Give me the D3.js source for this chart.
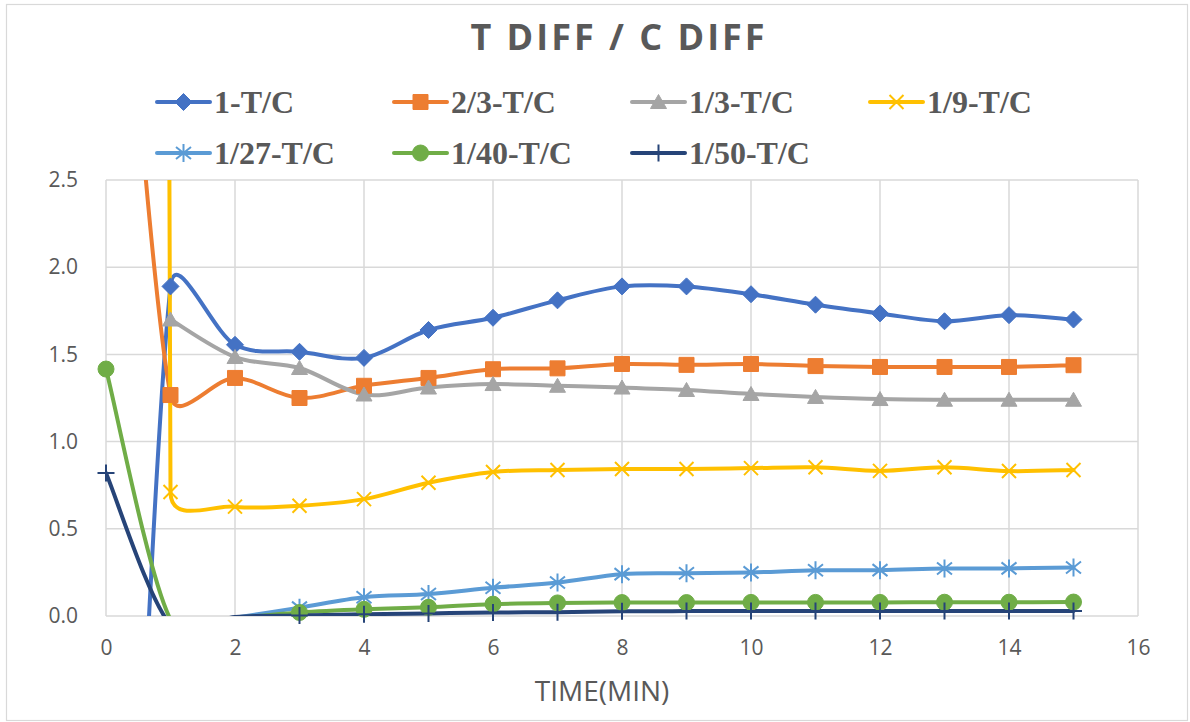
<!DOCTYPE html>
<html>
<head>
<meta charset="utf-8">
<script src="https://cdn.jsdelivr.net/npm/d3@7"></script>
<style>
  html, body { margin: 0; padding: 0; background: #ffffff; }
  svg { display: block; }
</style>
</head>
<body>
<svg id="chart" width="1190" height="722"></svg>
<script>
// ---- data ----
const time = [0, 1, 2, 3, 4, 5, 6, 7, 8, 9, 10, 11, 12, 13, 14, 15];

const ratio1    = [-5.5, 1.89, 1.555, 1.515, 1.48, 1.64, 1.71, 1.81, 1.89, 1.89, 1.845, 1.785, 1.735, 1.69, 1.725, 1.70];
const ratio2_3  = [5.3, 1.267, 1.365, 1.25, 1.32, 1.365, 1.415, 1.42, 1.445, 1.44, 1.445, 1.433, 1.428, 1.428, 1.428, 1.438];
const ratio1_3  = [null, 1.70, 1.485, 1.422, 1.27, 1.31, 1.33, 1.32, 1.31, 1.296, 1.273, 1.256, 1.244, 1.24, 1.24, 1.24];
const ratio1_9  = [120, 0.711, 0.627, 0.632, 0.67, 0.764, 0.826, 0.837, 0.843, 0.843, 0.848, 0.853, 0.832, 0.853, 0.831, 0.837];
const ratio1_27 = [null, null, -0.01, 0.048, 0.108, 0.126, 0.162, 0.192, 0.24, 0.245, 0.25, 0.262, 0.263, 0.272, 0.273, 0.278];
const ratio1_40 = [1.416, -0.02, -0.01, 0.02, 0.038, 0.05, 0.068, 0.075, 0.077, 0.077, 0.078, 0.078, 0.078, 0.079, 0.079, 0.08];
const ratio1_50 = [0.82, -0.05, -0.005, 0.003, 0.01, 0.015, 0.02, 0.022, 0.027, 0.028, 0.028, 0.028, 0.028, 0.028, 0.028, 0.028];

const seriesNames   = ["1-T/C", "2/3-T/C", "1/3-T/C", "1/9-T/C", "1/27-T/C", "1/40-T/C", "1/50-T/C"];
const seriesValues  = [ratio1, ratio2_3, ratio1_3, ratio1_9, ratio1_27, ratio1_40, ratio1_50];
const seriesColors  = ["#4472C4", "#ED7D31", "#A5A5A5", "#FFC000", "#5B9BD5", "#70AD47", "#264478"];
const seriesMarkers = ["diamond", "square", "triangle", "x", "asterisk", "circle", "plus"];

const xTicks = [0, 2, 4, 6, 8, 10, 12, 14, 16];
const yTicks = [0, 0.5, 1.0, 1.5, 2.0, 2.5];

const chartTitle = "T DIFF / C DIFF";
const xAxisTitle = "TIME(MIN)";

// ---- layout ----
const plot = { left: 106, right: 1138, top: 180, bottom: 616 };
const textColor = "#595959";
const gridColor = "#D9D9D9";

const svg = d3.select("#chart");

const x = d3.scaleLinear().domain([0, 16]).range([plot.left, plot.right]);
const y = d3.scaleLinear().domain([0, 2.5]).range([plot.bottom, plot.top]);

// outer chart border
svg.append("rect")
  .attr("x", 6.5).attr("y", 4.5)
  .attr("width", 1181).attr("height", 716)
  .attr("fill", "#ffffff")
  .attr("stroke", gridColor).attr("stroke-width", 1.2);

// title
svg.append("text")
  .attr("x", 619).attr("y", 50)
  .attr("text-anchor", "middle")
  .attr("font-family", "'Open Sans', sans-serif")
  .attr("font-weight", 700)
  .attr("font-size", 36)
  .attr("letter-spacing", 3)
  .attr("fill", textColor)
  .text(chartTitle);

// gridlines
const grid = svg.append("g");
grid.selectAll("line.h").data(yTicks).join("line")
  .attr("class", "h")
  .attr("x1", plot.left).attr("x2", plot.right)
  .attr("y1", d => y(d)).attr("y2", d => y(d))
  .attr("stroke", gridColor).attr("stroke-width", 1.5);
grid.selectAll("line.v").data(xTicks).join("line")
  .attr("class", "v")
  .attr("y1", plot.top).attr("y2", plot.bottom)
  .attr("x1", d => x(d)).attr("x2", d => x(d))
  .attr("stroke", gridColor).attr("stroke-width", 1.5);

// axes (labels only, gridlines drawn above)
const fmtY = d3.format(".1f");
const yAxis = svg.append("g")
  .attr("transform", `translate(${plot.left},0)`)
  .call(d3.axisLeft(y).tickValues(yTicks).tickFormat(fmtY).tickSize(0).tickPadding(28));
const xAxis = svg.append("g")
  .attr("transform", `translate(0,${plot.bottom})`)
  .call(d3.axisBottom(x).tickValues(xTicks).tickFormat(d3.format("d")).tickSize(0).tickPadding(24));
[yAxis, xAxis].forEach(g => {
  g.select(".domain").remove();
  g.selectAll("text")
    .attr("font-family", "'Open Sans', sans-serif")
    .attr("font-size", 21)
    .attr("fill", textColor);
});

// x axis title
svg.append("text")
  .attr("x", 602).attr("y", 701)
  .attr("text-anchor", "middle")
  .attr("font-family", "'Open Sans', sans-serif")
  .attr("font-size", 28)
  .attr("fill", textColor)
  .text(xAxisTitle);

// smoothed curve: cubic Bezier through every point, tangent taken from the
// neighbouring points and limited by the length of each segment
function smoothCurve(context) {
  let pts;
  const limit = (t, d) => {
    const L = Math.hypot(t[0], t[1]);
    return L ? Math.min(1 / 6, 0.5 * d / L) : 0;
  };
  return {
    areaStart() {}, areaEnd() {},
    lineStart() { pts = []; },
    point(px, py) { pts.push([+px, +py]); },
    lineEnd() {
      const n = pts.length;
      if (!n) return;
      context.moveTo(pts[0][0], pts[0][1]);
      if (n === 1) return;
      const tan = pts.map((p, i) => {
        const a = pts[Math.max(0, i - 1)], b = pts[Math.min(n - 1, i + 1)];
        return [b[0] - a[0], b[1] - a[1]];
      });
      for (let i = 0; i < n - 1; i++) {
        const p = pts[i], q = pts[i + 1];
        const d = Math.hypot(q[0] - p[0], q[1] - p[1]);
        const t0 = tan[i], t1 = tan[i + 1];
        const f0 = limit(t0, d), f1 = limit(t1, d);
        context.bezierCurveTo(
          p[0] + t0[0] * f0, p[1] + t0[1] * f0,
          q[0] - t1[0] * f1, q[1] - t1[1] * f1,
          q[0], q[1]);
      }
    }
  };
}

// marker shapes
function markerPath(type) {
  const p = d3.path();
  switch (type) {
    case "diamond":
      p.moveTo(0, -8.5); p.lineTo(8.5, 0); p.lineTo(0, 8.5); p.lineTo(-8.5, 0); p.closePath(); break;
    case "square":
      p.rect(-7.5, -7.5, 15, 15); break;
    case "triangle":
      p.moveTo(0, -7.5); p.lineTo(8, 6.5); p.lineTo(-8, 6.5); p.closePath(); break;
    case "circle":
      p.arc(0, 0, 8, 0, 2 * Math.PI); break;
    case "x":
      p.moveTo(-7, -7); p.lineTo(7, 7); p.moveTo(7, -7); p.lineTo(-7, 7); break;
    case "asterisk":
      p.moveTo(0, -9); p.lineTo(0, 9);
      p.moveTo(-7.5, -6); p.lineTo(7.5, 6);
      p.moveTo(7.5, -6); p.lineTo(-7.5, 6); break;
    case "plus":
      p.moveTo(0, -8.5); p.lineTo(0, 8.5); p.moveTo(-8.5, 0); p.lineTo(8.5, 0); break;
  }
  return p.toString();
}
const filledMarker = t => ["diamond", "square", "triangle", "circle"].includes(t);

function drawMarker(g, type, color) {
  const filled = filledMarker(type);
  return g.append("path")
    .attr("d", markerPath(type))
    .attr("fill", filled ? color : "none")
    .attr("stroke", color)
    .attr("stroke-width", filled ? 1 : 2);
}

// clip for the series lines
svg.append("defs").append("clipPath").attr("id", "plotClip")
  .append("rect")
  .attr("x", plot.left).attr("y", plot.top)
  .attr("width", plot.right - plot.left).attr("height", plot.bottom - plot.top);

const line = d3.line()
  .defined(d => d.v != null)
  .x(d => x(d.t))
  .y(d => y(d.v))
  .curve(smoothCurve);

const seriesData = seriesValues.map(vals => time.map((t, i) => ({ t, v: vals[i] })));

const linesG = svg.append("g").attr("clip-path", "url(#plotClip)");
seriesData.forEach((data, s) => {
  linesG.append("path")
    .datum(data)
    .attr("d", line)
    .attr("fill", "none")
    .attr("stroke", seriesColors[s])
    .attr("stroke-width", 4)
    .attr("stroke-linejoin", "round")
    .attr("stroke-linecap", "round");
});

const [yMin, yMax] = y.domain();
const [xMin, xMax] = x.domain();
const markersG = svg.append("g");
seriesData.forEach((data, s) => {
  data.filter(d => d.v != null && d.v >= yMin && d.v <= yMax && d.t >= xMin && d.t <= xMax)
    .forEach(d => {
      drawMarker(markersG, seriesMarkers[s], seriesColors[s])
        .attr("transform", `translate(${x(d.t)},${y(d.v)})`);
    });
});

// legend
const legendCols = [157, 394, 632, 870];
const legendRows = [102, 153];
const legend = svg.append("g");
seriesNames.forEach((name, i) => {
  const lx = legendCols[i % 4], ly = legendRows[Math.floor(i / 4)];
  const item = legend.append("g").attr("transform", `translate(${lx},${ly})`);
  item.append("line")
    .attr("x1", 0).attr("x2", 53).attr("y1", 0).attr("y2", 0)
    .attr("stroke", seriesColors[i]).attr("stroke-width", 4)
    .attr("stroke-linecap", "round");
  drawMarker(item, seriesMarkers[i], seriesColors[i])
    .attr("transform", "translate(26.5,0)");
  item.append("text")
    .attr("x", 57).attr("y", 11)
    .attr("font-family", "'Liberation Serif', 'Times New Roman', serif")
    .attr("font-weight", 700)
    .attr("font-size", 32)
    .attr("fill", textColor)
    .text(name);
});
</script>
</body>
</html>
